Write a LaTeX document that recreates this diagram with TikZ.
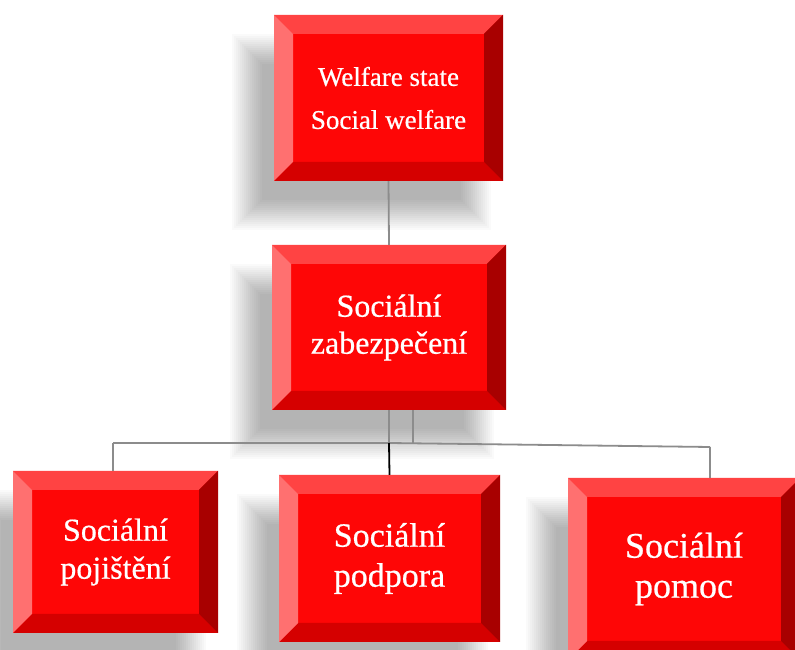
\documentclass[tikz,border=0pt]{standalone}
\usepackage{fontspec}
\setmainfont{Liberation Serif}
\newfontfamily\boxfont[FakeBold=0.6]{Liberation Serif}
\usetikzlibrary{backgrounds}
\definecolor{face}{HTML}{FE0606}
\definecolor{bevT}{HTML}{FF4343}
\definecolor{bevL}{HTML}{FF7070}
\definecolor{bevR}{HTML}{A80000}
\definecolor{bevB}{HTML}{D50000}
\definecolor{connG}{HTML}{8C8C8C}
\newcommand\softshadow[1]{%
  \foreach \i in {0,...,15}{%
    \pgfmathsetmacro\e{15-2*\i}%
    \pgfmathsetmacro\xa{-27-\e}%
    \pgfmathsetmacro\ya{-34-\e}%
    \pgfmathsetmacro\xb{-27+\e}%
    \pgfmathsetmacro\yb{-34+\e}%
    \fill[black,opacity=0.021] ([shift={(\xa,\ya)}]#1.south west) rectangle ([shift={(\xb,\yb)}]#1.north east);
  }}
\tikzset{
  bevelbox/.style={
    rectangle, inner sep=0pt, fill=face, text=white, align=center,
    path picture={
      \def\b{19pt}
      \fill[bevT] (path picture bounding box.north west) -- (path picture bounding box.north east)
        -- ([xshift=-\b,yshift=-\b]path picture bounding box.north east)
        -- ([xshift=\b,yshift=-\b]path picture bounding box.north west) -- cycle;
      \fill[bevB] (path picture bounding box.south west) -- (path picture bounding box.south east)
        -- ([xshift=-\b,yshift=\b]path picture bounding box.south east)
        -- ([xshift=\b,yshift=\b]path picture bounding box.south west) -- cycle;
      \fill[bevL] (path picture bounding box.north west) -- (path picture bounding box.south west)
        -- ([xshift=\b,yshift=\b]path picture bounding box.south west)
        -- ([xshift=\b,yshift=-\b]path picture bounding box.north west) -- cycle;
      \fill[bevR] (path picture bounding box.north east) -- (path picture bounding box.south east)
        -- ([xshift=-\b,yshift=\b]path picture bounding box.south east)
        -- ([xshift=-\b,yshift=-\b]path picture bounding box.north east) -- cycle;
    }},
  topfont/.style={font=\boxfont\fontsize{27}{43}\selectfont},
  midfont/.style={font=\boxfont\fontsize{32}{37}\selectfont},
  conn/.style={draw=connG, line width=1.8pt},
  connblack/.style={draw=black, line width=1.8pt}
}
\begin{document}
\begin{tikzpicture}[x=1pt,y=1pt]
\clip (0,0) rectangle (795,650);
\begin{scope}[on background layer]
\fill[white] (0,0) rectangle (795,650);
\end{scope}

\coordinate (bus) at (389,207);
\coordinate (busR) at (710,203);
\coordinate (busL) at (113,207);

\node[bevelbox, topfont, minimum width=229pt, minimum height=166pt] (top) at (388.5,552) {Welfare state\\Social welfare};
\node[bevelbox, midfont, minimum width=234pt, minimum height=165pt] (mid) at (389,322.5) {Sociální\\zabezpečení};

\draw[conn] (top.south) -- (mid.north);
\draw[conn] (mid.south) -- (bus);
\draw[conn] ([xshift=24pt]mid.south) -- ([xshift=24pt]bus);
\draw[conn] (busL) -- (bus) -- (busR);

\node[bevelbox, font=\boxfont\fontsize{32}{38}\selectfont, minimum width=205pt, minimum height=162pt] (b1) at (115.5,98) {Sociální\\pojištění};
\node[bevelbox, font=\boxfont\fontsize{34}{40}\selectfont, minimum width=221pt, minimum height=167pt] (b2) at (389.5,91.5) {Sociální\\podpora};
\node[bevelbox, font=\boxfont\fontsize{36}{40}\selectfont, minimum width=232pt, minimum height=182pt] (b3) at (684,81) {Sociální\\pomoc};

\draw[conn] (busL) -- (busL |- b1.north);
\draw[connblack] (bus) -- (b2.north);
\draw[conn] (busR) -- (busR |- b3.north);

\begin{scope}[on background layer]
\softshadow{top}
\softshadow{mid}
\softshadow{b1}
\softshadow{b2}
\softshadow{b3}
\end{scope}
\end{tikzpicture}
\end{document}
